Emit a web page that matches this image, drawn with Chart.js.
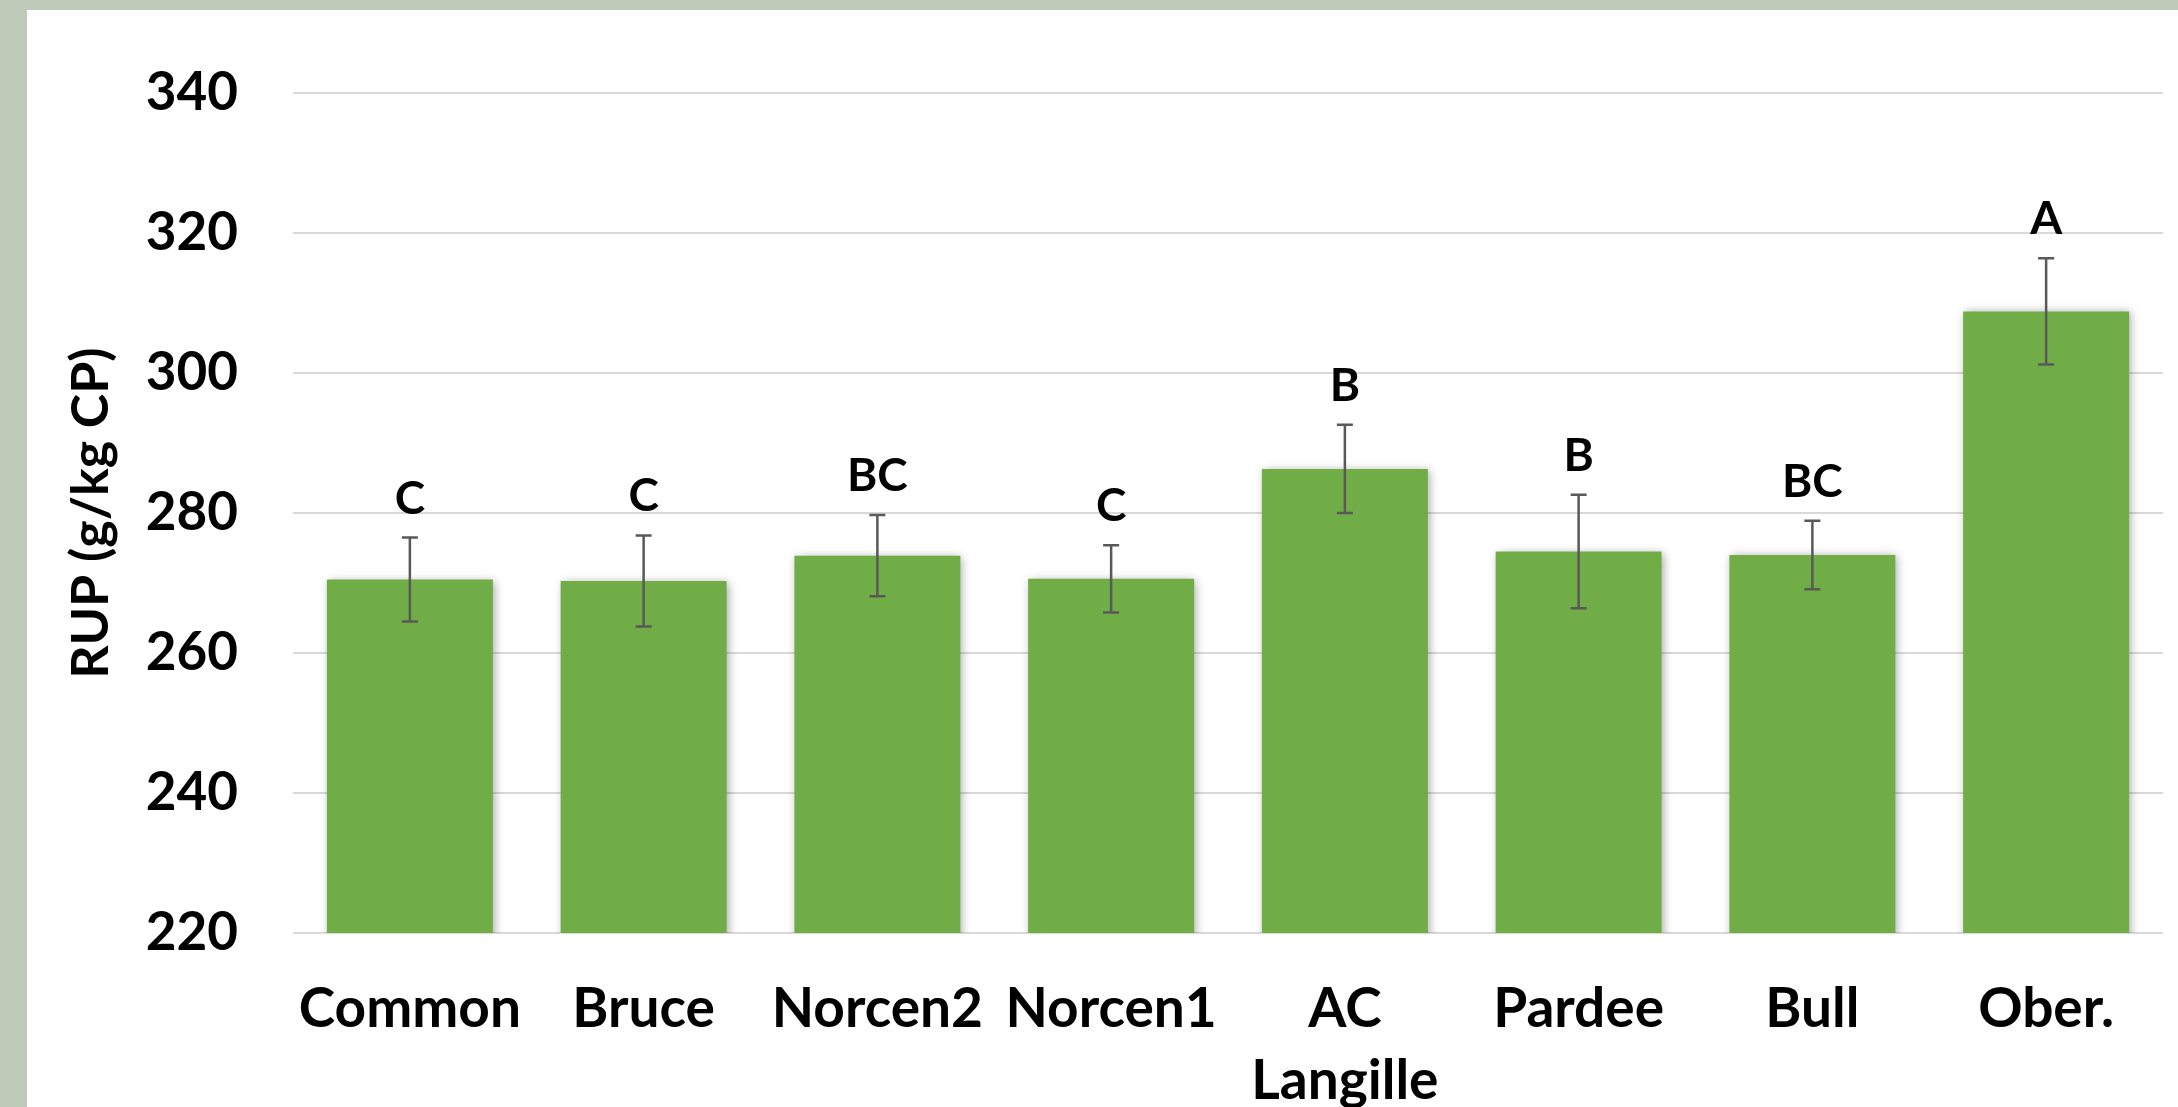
<!DOCTYPE html>
<html>
<head>
<meta charset="utf-8">
<title>RUP by cultivar</title>
<script src="https://cdn.jsdelivr.net/npm/chart.js@4.4.1/dist/chart.umd.min.js"></script>
<style>
  html, body { margin: 0; padding: 0; overflow: hidden; background: #BFCBB9; }
  #wrap { position: absolute; left: 0; top: 0; width: 2178px; height: 1107px; }
</style>
</head>
<body>
<div id="wrap"><canvas id="chart" width="2178" height="1107"></canvas></div>
<script>
// Cultivars on the x axis
const categories = ['Common', 'Bruce', 'Norcen2', 'Norcen1', ['AC', 'Langille'], 'Pardee', 'Bull', 'Ober.'];
// Mean rumen-undegradable protein, g/kg CP
const rupMeans = [270.5, 270.3, 273.9, 270.6, 286.3, 274.5, 274.0, 308.8];
// Standard error of each mean
const rupSE = [6.0, 6.5, 5.8, 4.8, 6.3, 8.1, 4.9, 7.6];
// Mean separation letters
const sigLetters = ['C', 'C', 'BC', 'C', 'B', 'B', 'BC', 'A'];
// Y axis ticks
const yTicks = [220, 240, 260, 280, 300, 320, 340];

const FONT = 'Lato, "Open Sans", sans-serif';
const BAR_GREEN = '#70AD47';

// Frame: grey-green margin with a white panel
const framePlugin = {
  id: 'frame',
  beforeDraw(chart) {
    const ctx = chart.ctx;
    ctx.save();
    ctx.fillStyle = '#BFCBB9';
    ctx.fillRect(0, 0, chart.width, chart.height);
    ctx.fillStyle = '#FFFFFF';
    ctx.fillRect(27, 10, chart.width - 27, chart.height - 10);
    ctx.restore();
  }
};

// Soft drop shadow under the bars
const shadowPlugin = {
  id: 'barShadow',
  beforeDatasetDraw(chart) {
    const ctx = chart.ctx;
    ctx.save();
    ctx.shadowColor = 'rgba(0,0,0,0.35)';
    ctx.shadowBlur = 9;
    ctx.shadowOffsetX = 2;
    ctx.shadowOffsetY = 1;
  },
  afterDatasetDraw(chart) {
    chart.ctx.restore();
  }
};

// Error bars (± SE) and letters above them
const errorPlugin = {
  id: 'errorBars',
  afterDatasetsDraw(chart) {
    const ctx = chart.ctx;
    const y = chart.scales.y;
    const meta = chart.getDatasetMeta(0);
    ctx.save();
    meta.data.forEach((bar, i) => {
      const x = bar.x;
      const yTop = y.getPixelForValue(rupMeans[i] + rupSE[i]);
      const yBot = y.getPixelForValue(rupMeans[i] - rupSE[i]);
      ctx.strokeStyle = '#595959';
      ctx.lineWidth = 2.5;
      ctx.beginPath();
      ctx.moveTo(x, yTop); ctx.lineTo(x, yBot);
      ctx.moveTo(x - 8, yTop); ctx.lineTo(x + 8, yTop);
      ctx.moveTo(x - 8, yBot); ctx.lineTo(x + 8, yBot);
      ctx.stroke();

      ctx.fillStyle = '#000000';
      ctx.font = 'bold 46px ' + FONT;
      ctx.textAlign = 'center';
      ctx.textBaseline = 'alphabetic';
      ctx.fillText(sigLetters[i], x, yTop - 24);
    });
    ctx.restore();
  }
};

new Chart(document.getElementById('chart'), {
  type: 'bar',
  data: {
    labels: categories,
    datasets: [{
      data: rupMeans,
      backgroundColor: BAR_GREEN,
      borderWidth: 0,
      barPercentage: 0.71,
      categoryPercentage: 1.0
    }]
  },
  options: {
    responsive: false,
    animation: false,
    devicePixelRatio: 1,
    layout: { padding: { top: 93, right: 15, left: 0, bottom: 0 } },
    plugins: {
      legend: { display: false },
      tooltip: { enabled: false }
    },
    scales: {
      x: {
        grid: { display: false },
        border: { display: false },
        ticks: {
          color: '#000000',
          padding: 32,
          maxRotation: 0,
          autoSkip: false,
          font: { family: FONT, size: 55, weight: 'bold', lineHeight: '72px' }
        },
        afterFit(scale) { scale.height = 1107 - 933; }
      },
      y: {
        min: 220,
        max: 340,
        afterBuildTicks(scale) { scale.ticks = yTicks.map(v => ({ value: v })); },
        grid: { color: '#D9D9D9', lineWidth: 2, drawTicks: false },
        border: { display: false },
        ticks: {
          color: '#000000',
          padding: 55,
          font: { family: FONT, size: 53, weight: 'bold' }
        },
        title: {
          display: true,
          text: 'RUP (g/kg CP)',
          color: '#000000',
          padding: { top: 60, bottom: 0 },
          font: { family: FONT, size: 52, weight: 'bold', lineHeight: 1.2 }
        },
        afterFit(scale) { scale.width = 293; }
      }
    }
  },
  plugins: [framePlugin, shadowPlugin, errorPlugin]
});
</script>
</body>
</html>
